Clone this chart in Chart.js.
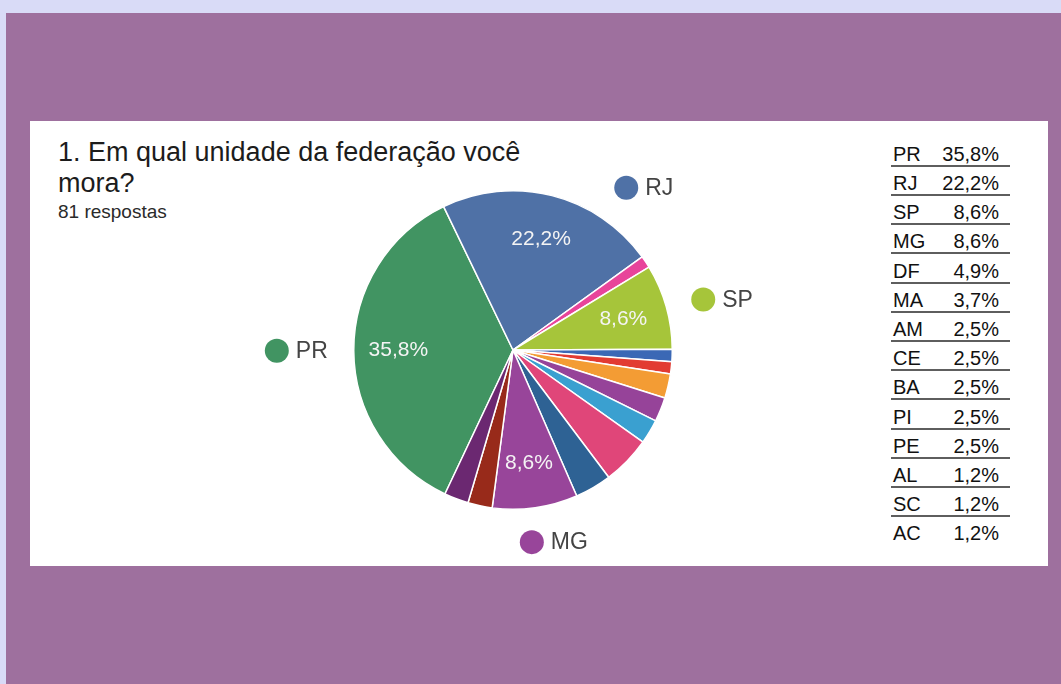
<!DOCTYPE html>
<html>
<head>
<meta charset="utf-8">
<script src="https://cdn.jsdelivr.net/npm/chart.js@4.4.0/dist/chart.umd.min.js"></script>
<style>
  body { margin: 0; background: #d9dbf7; width: 1061px; height: 684px; overflow: hidden; font-family: "Liberation Sans", Arial, sans-serif; }
  #frame { position: absolute; left: 6px; top: 13px; width: 1055px; height: 671px; background: #9e709e; }
  #panel { position: absolute; left: 30px; top: 121px; width: 1018px; height: 445px; background: #fff; }
  .title { position: absolute; left: 58px; font-size: 27px; color: #1c1c1c; line-height: 31px; }
  #count { position: absolute; left: 58px; top: 202px; font-size: 19px; line-height: 19px; color: #2a2a2a; }
  #chart { position: absolute; left: 213px; top: 140px; }
  .row { position: absolute; left: 891px; width: 119px; height: 21px; font-size: 20px; line-height: 20px; color: #111; }
  .row.line { border-bottom: 2px solid #5e5e5e; }
  .row .uf { position: absolute; left: 2px; top: 0; }
  .row .pct { position: absolute; right: 11px; top: 0; }
</style>
</head>
<body>
<div id="frame"></div>
<div id="panel"></div>
<div class="title" style="top:137px">1. Em qual unidade da federação você</div>
<div class="title" style="top:168px">mora?</div>
<div id="count">81 respostas</div>
<canvas id="chart" width="600" height="420"></canvas>
<div id="table"></div>

<script>
// pie order (clockwise, starting with PR)
const states = ["PR", "RJ", "AL", "SP", "SC", "AC", "AM", "CE", "BA", "DF", "MA", "MG", "PI", "PE"];
const answers = [29, 18, 1, 7, 1, 1, 2, 2, 2, 4, 3, 7, 2, 2];
const colors = ["#419462", "#4f71a6", "#e8449a", "#a6c53a", "#3b68b5", "#e23b32", "#f39c34",
                "#964399", "#3aa0d0", "#e04679", "#2e6294", "#98459a", "#982a1a", "#6b2871"];

const total = answers.reduce((a, b) => a + b, 0);

function pctText(v) {
  return (v / total * 100).toFixed(1).replace(".", ",") + "%";
}

// table on the right, sorted by answers
function buildTable() {
  const rows = states.map((s, i) => ({ uf: s, n: answers[i] }));
  rows.sort((a, b) => b.n - a.n);
  const table = document.getElementById("table");
  rows.forEach((r, i) => {
    const baseline = 160.7 + 29.2 * i;
    const div = document.createElement("div");
    div.className = "row" + (i < rows.length - 1 ? " line" : "");
    div.style.top = (baseline - 17) + "px";
    div.innerHTML = `<span class="uf">${r.uf}</span><span class="pct">${pctText(r.n)}</span>`;
    table.appendChild(div);
  });
}

// small tweaks for the outside labels (degrees / pixels)
const labelNudge = { RJ: { dist: 6 }, MG: { angle: 6, dist: 7 } };

const sliceLabels = {
  id: "sliceLabels",
  afterDatasetsDraw(chart) {
    const ctx = chart.ctx;
    const meta = chart.getDatasetMeta(0);
    meta.data.forEach((arc, i) => {
      if (answers[i] / total < 0.08) return;
      const p = arc.getProps(["x", "y", "startAngle", "endAngle", "outerRadius"], true);
      const mid = (p.startAngle + p.endAngle) / 2;
      const R = p.outerRadius;

      // percent inside the slice
      ctx.save();
      ctx.font = "21px 'Liberation Sans', Arial, sans-serif";
      ctx.fillStyle = "#f4f4f4";
      ctx.textAlign = "center";
      ctx.textBaseline = "middle";
      ctx.fillText(pctText(answers[i]), p.x + Math.cos(mid) * R * 0.72, p.y + Math.sin(mid) * R * 0.72);

      // state name outside
      const nudge = labelNudge[states[i]] || {};
      const a = mid + (nudge.angle || 0) * Math.PI / 180;
      const D = R + 26 + (nudge.dist || 0);
      let lx = p.x + Math.cos(a) * D;
      let ly = p.y + Math.sin(a) * D;
      const top = p.y - R - 3;
      if (ly < top) {
        ly = top;
        lx = p.x + Math.sign(Math.cos(a)) * Math.sqrt(D * D - (ly - p.y) * (ly - p.y));
      }
      ctx.font = "23px 'Liberation Sans', Arial, sans-serif";
      const w = ctx.measureText(states[i]).width;
      let dotX, textX;
      if (Math.cos(a) >= 0) {
        dotX = lx + 12;
        textX = lx + 31;
      } else {
        textX = lx - w;
        dotX = textX - 7 - 12;
      }
      ctx.beginPath();
      ctx.arc(dotX, ly, 12, 0, Math.PI * 2);
      ctx.fillStyle = colors[i];
      ctx.fill();
      ctx.fillStyle = "#444";
      ctx.textAlign = "left";
      ctx.fillText(states[i], textX, ly + 1);
      ctx.restore();
    });
  }
};

function drawChart() {
  const ctx = document.getElementById("chart").getContext("2d");
  new Chart(ctx, {
    type: "pie",
    data: {
      labels: states,
      datasets: [{
        data: answers,
        backgroundColor: colors,
        borderColor: "#ffffff",
        borderWidth: 1.5
      }]
    },
    options: {
      responsive: false,
      animation: false,
      rotation: -154.7,
      layout: { padding: { left: 140, right: 140, top: 50, bottom: 50 } },
      plugins: {
        legend: { display: false },
        tooltip: { enabled: true }
      }
    },
    plugins: [sliceLabels]
  });
}

buildTable();
drawChart();
</script>
</body>
</html>
